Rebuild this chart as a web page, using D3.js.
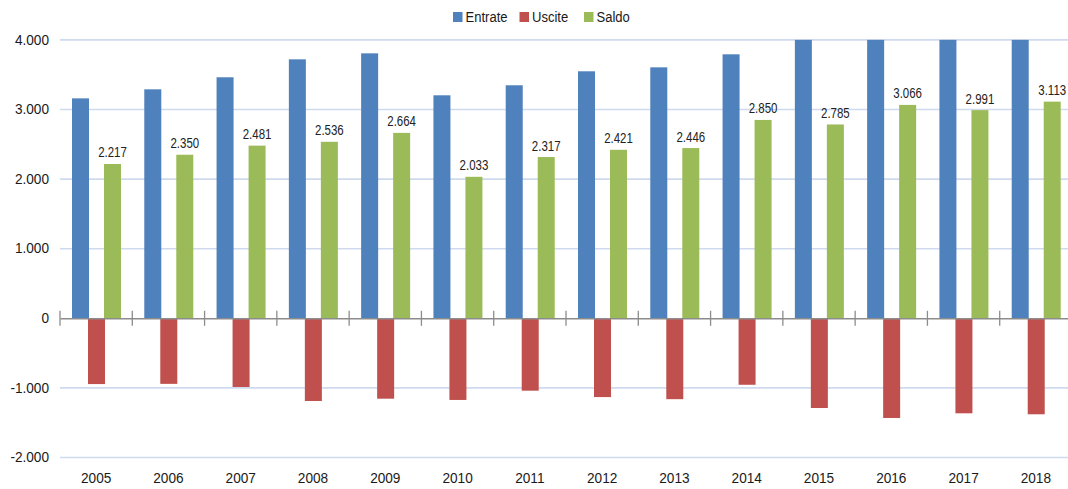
<!DOCTYPE html>
<html>
<head>
<meta charset="utf-8">
<script src="https://cdn.jsdelivr.net/npm/d3@7"></script>
<style>
  html, body { margin: 0; padding: 0; background: #fff; }
  svg { display: block; }
</style>
</head>
<body>
<script>
const years = ["2005","2006","2007","2008","2009","2010","2011","2012","2013","2014","2015","2016","2017","2018"];
const entrate = [3160, 3290, 3463, 3721, 3807, 3204, 3348, 3549, 3606, 3793, 4075, 4496, 4361, 4493];
const uscite  = [-945, -942, -987, -1188, -1155, -1173, -1040, -1132, -1162, -955, -1289, -1432, -1365, -1379];
const saldo   = [2217, 2350, 2481, 2536, 2664, 2033, 2317, 2421, 2446, 2850, 2785, 3066, 2991, 3113];
const seriesNames = ["Entrate", "Uscite", "Saldo"];
const seriesColors = ["#4F81BD", "#C0504D", "#9BBB59"];
const yTicks = [-2000, -1000, 0, 1000, 2000, 3000, 4000];

const W = 1068, H = 489;
const svg = d3.select("body").append("svg").attr("width", W).attr("height", H);

const loc = d3.formatLocale({decimal: ",", thousands: ".", grouping: [3], currency: ["", "€"], minus: "-"});
const fmt = loc.format(",d");

const y = d3.scaleLinear().domain([-2000, 4000]).range([457.5, 39.9]);
const x0 = d3.scaleBand().domain(years).range([60, 1072]).paddingInner(0).paddingOuter(0);
const x1 = d3.scaleBand().domain(seriesNames).range([12, 60]);
const barW = 17;
const color = d3.scaleOrdinal().domain(seriesNames).range(seriesColors);
const FONT = "'Liberation Sans', Arial, sans-serif";

// gridlines
svg.append("g").selectAll("line").data(yTicks.filter(d => d !== 0)).join("line")
  .attr("x1", 60).attr("x2", W)
  .attr("y1", d => y(d)).attr("y2", d => y(d))
  .attr("stroke", "#cfdaee").attr("stroke-width", 1.6);

// y labels
const yAxis = d3.axisLeft(y).tickValues(yTicks).tickFormat(fmt).tickSize(0).tickPadding(0);
const ya = svg.append("g").attr("transform", "translate(49,0)").call(yAxis);
ya.select(".domain").remove();
ya.selectAll("text").attr("font-family", FONT)
  .attr("font-size", 14.5).attr("fill", "#1a1a1a")
  .attr("transform", "scale(0.94,1)").attr("x", 0);
ya.selectAll(".tick").attr("transform", d => `translate(0,${y(d)})`);

// bars
const data = years.map((yr, i) => ({year: yr, vals: [
  {k: "Entrate", v: entrate[i]}, {k: "Uscite", v: uscite[i]}, {k: "Saldo", v: saldo[i]}
]}));
const [ymin, ymax] = y.domain();
const groups = svg.append("g").selectAll("g").data(data).join("g")
  .attr("transform", d => `translate(${x0(d.year)},0)`);
groups.selectAll("rect").data(d => d.vals).join("rect")
  .attr("x", d => x1(d.k))
  .attr("width", barW)
  .attr("y", d => y(Math.min(ymax, Math.max(0, d.v))))
  .attr("height", d => Math.abs(y(Math.min(ymax, Math.max(ymin, d.v))) - y(0)))
  .attr("fill", d => color(d.k));

// zero axis
const xAxis = d3.axisBottom(x0).tickSize(0).tickFormat("");
const xa = svg.append("g").attr("transform", `translate(0,${y(0)})`).call(xAxis);
xa.select(".domain").attr("stroke", "#8c8c8c").attr("stroke-width", 1.5);
const boundaries = years.map(d => x0(d)).concat([x0.range()[1]]);
svg.append("g").selectAll("line").data(boundaries).join("line")
  .attr("x1", d => d).attr("x2", d => d)
  .attr("y1", y(0) - 7.5).attr("y2", y(0) + 7.5)
  .attr("stroke", "#8c8c8c").attr("stroke-width", 1.3);

// x labels
const xl = d3.axisBottom(x0).tickSize(0).tickPadding(0);
const xg = svg.append("g").attr("transform", "translate(0,483)").call(xl);
xg.select(".domain").remove();
xg.selectAll("text").attr("font-family", FONT)
  .attr("font-size", 15.5).attr("fill", "#1a1a1a").attr("dy", 0).attr("y", 0)
  .attr("transform", "scale(0.88,1)");

// data labels for Saldo
groups.append("text")
  .attr("transform", (d, i) => `translate(${x1("Saldo") + barW / 2},${y(saldo[i]) - 6.5}) scale(0.82,1)`)
  .attr("text-anchor", "middle")
  .attr("font-family", FONT)
  .attr("font-size", 14).attr("fill", "#222")
  .text((d, i) => fmt(saldo[i]));

// legend
const legX = [453, 519.5, 584];
const leg = svg.append("g").selectAll("g").data(seriesNames).join("g")
  .attr("transform", (d, i) => `translate(${legX[i]},12)`);
leg.append("rect").attr("width", 9.5).attr("height", 10).attr("fill", d => color(d));
leg.append("text").attr("transform", "translate(12.5,10.3) scale(0.9,1)")
  .attr("font-family", FONT)
  .attr("font-size", 14.5).attr("fill", "#1a1a1a").text(d => d);
</script>
</body>
</html>
